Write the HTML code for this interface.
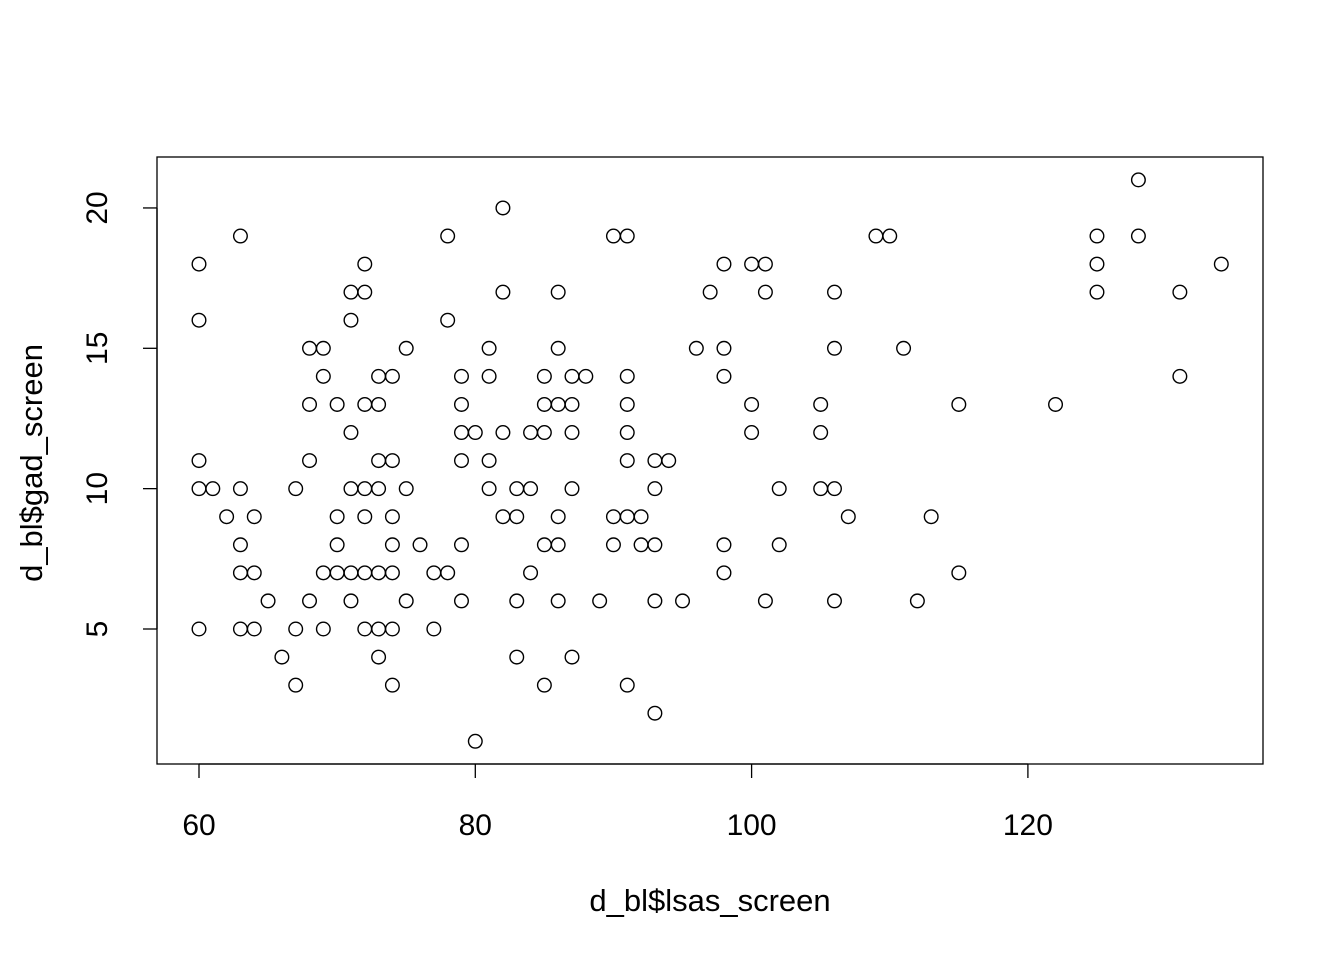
<!DOCTYPE html>
<html><head><meta charset="utf-8"><style>
html,body{margin:0;padding:0;background:#fff;}
svg{display:block;font-family:"Liberation Sans",Arial,sans-serif;}
</style></head><body>
<svg id="chart" width="1344" height="960" viewBox="0 0 1344 960">
<rect x="157" y="157" width="1106" height="607" fill="none" stroke="#000" stroke-width="1.3"/>
<g id="axes"></g>
<g id="points"></g>
<text x="710" y="911" font-size="31" text-anchor="middle">d_bl$lsas_screen</text>
<text transform="translate(42,463) rotate(-90)" font-size="31" text-anchor="middle">d_bl$gad_screen</text>
</svg>
<script>
const xVals=[60,60,60,60,61,60,62,63,63,63,63,63,64,64,64,65,66,67,67,67,68,68,68,68,69,69,69,69,70,70,70,70,71,71,71,71,71,71,72,72,72,72,72,72,72,73,73,73,73,73,73,73,74,74,74,74,74,74,74,75,75,75,76,77,77,78,78,78,79,79,79,79,79,79,80,80,81,81,81,81,82,82,82,82,83,83,83,83,84,84,84,85,85,85,85,85,86,86,86,86,86,86,87,87,87,87,87,88,89,90,90,90,91,91,91,91,91,91,91,92,92,93,93,93,93,93,94,95,96,97,98,98,98,98,98,100,100,100,101,101,101,102,102,105,105,105,106,106,106,106,107,109,110,111,112,113,115,115,122,125,125,125,128,128,131,131,134];
const yVals=[18,16,11,10,10,5,9,19,10,8,7,5,9,7,5,6,4,10,5,3,15,13,11,6,15,14,7,5,13,9,8,7,17,16,12,10,7,6,18,17,13,10,9,7,5,14,13,11,10,7,5,4,14,11,9,8,7,5,3,15,10,6,8,7,5,19,16,7,14,13,12,11,8,6,12,1,15,14,11,10,20,17,12,9,10,9,6,4,10,12,7,14,13,12,8,3,17,15,13,9,8,6,14,13,12,10,4,14,6,19,9,8,19,14,13,12,11,9,3,9,8,11,10,8,6,2,11,6,15,17,18,15,14,8,7,18,13,12,18,17,6,10,8,13,12,10,17,15,10,6,9,19,19,15,6,9,13,7,13,19,18,17,21,19,17,14,18];
const xTicks=[60,80,100,120];
const yTicks=[5,10,15,20];
const ns="http://www.w3.org/2000/svg";
function xs(v){return 199+(v-60)*13.815;}
function ys(v){return 629-(v-5)*28.07;}
const axes=document.getElementById('axes');
function mk(tag,attrs,parent){const e=document.createElementNS(ns,tag);for(const k in attrs)e.setAttribute(k,attrs[k]);parent.appendChild(e);return e;}
mk('line',{x1:xs(60),x2:xs(120),y1:764,y2:764,stroke:'#000','stroke-width':1.3},axes);
mk('line',{x1:157,x2:157,y1:ys(5),y2:ys(20),stroke:'#000','stroke-width':1.3},axes);
xTicks.forEach(t=>{
  const l=mk('line',{x1:xs(t),x2:xs(t),y1:764,y2:778,stroke:'#000','stroke-width':1.3},axes);
  
  
  const tx=mk('text',{x:xs(t),y:835,'font-size':30,'text-anchor':'middle'},axes);
  tx.textContent=t;
  
  
});
yTicks.forEach(t=>{
  const l=mk('line',{x1:143,x2:157,y1:ys(t),y2:ys(t),stroke:'#000','stroke-width':1.3},axes);
  
  
  const tx=mk('text',{transform:`translate(107,${ys(t)}) rotate(-90)`,'font-size':30,'text-anchor':'middle'},axes);
  tx.textContent=t;
  
  
});
const pts=document.getElementById('points');
xVals.forEach((x,i)=>{
  const c=mk('circle',{cx:xs(x),cy:ys(yVals[i]),r:6.8,fill:'none',stroke:'#000','stroke-width':1.4},pts);
  
  
});
</script>
</body></html>
